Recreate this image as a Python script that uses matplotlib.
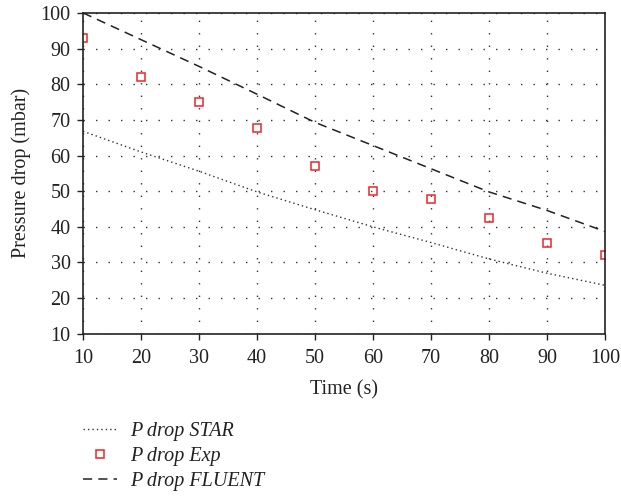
import numpy as np
import matplotlib.pyplot as plt

# data
time = [10, 20, 30, 40, 50, 60, 70, 80, 90, 100]
p_star = [66.8, 61.0, 55.6, 49.8, 44.8, 40.0, 35.6, 31.0, 27.0, 23.6]
p_exp = [93.0, 82.0, 75.0, 67.7, 57.0, 50.0, 47.9, 42.6, 35.6, 32.0]
p_fluent = [100.0, 92.5, 85.0, 77.2, 69.3, 62.8, 56.3, 49.8, 44.6, 38.7]

plt.rcParams['font.family'] = ['Liberation Serif', 'DejaVu Serif']

fig = plt.figure(figsize=(6.21, 4.96), dpi=100)
ax = fig.add_axes([0.1337, 0.327, 0.8405, 0.647])

ax.plot(time, p_star, color='#333333', linestyle=(0, (1, 2.2)), linewidth=1.0,
        label='P drop STAR')
ax.plot(time, p_exp, linestyle='none', marker='s', markersize=5.8,
        markerfacecolor='none', markeredgecolor='#e8262a', markeredgewidth=1.1,
        label='P drop Exp')
ax.plot(time, p_fluent, color='#222222', linestyle=(0, (6, 4)), linewidth=1.1,
        label='P drop FLUENT')

ax.set_xlim(10, 100)
ax.set_ylim(10, 100)
ax.set_xticks(np.arange(10, 101, 10))
ax.set_yticks(np.arange(10, 101, 10))
ax.grid(True, color='#333333', linestyle=(0, (1, 8)), linewidth=1.0)
ax.tick_params(direction='out', length=4, width=1, labelsize=14.5, colors='#222222')
ax.tick_params(axis='x', pad=7)
ax.tick_params(axis='y', pad=5)
for s in ax.spines.values():
    s.set_linewidth(1.2)
    s.set_color('#222222')

ax.set_xlabel('Time (s)', fontsize=14.5, color='#222222', labelpad=9)
ax.set_ylabel('Pressure drop (mbar)', fontsize=14.5, color='#222222', labelpad=7)

leg = fig.legend(loc='upper left', bbox_to_anchor=(0.12, 0.166), frameon=False,
                 prop={'style': 'italic', 'size': 14.5}, handlelength=1.7,
                 handletextpad=0.65, labelspacing=0.3, borderaxespad=0)
for t in leg.get_texts():
    t.set_color('#222222')

fig.savefig('out.png', dpi=100)
